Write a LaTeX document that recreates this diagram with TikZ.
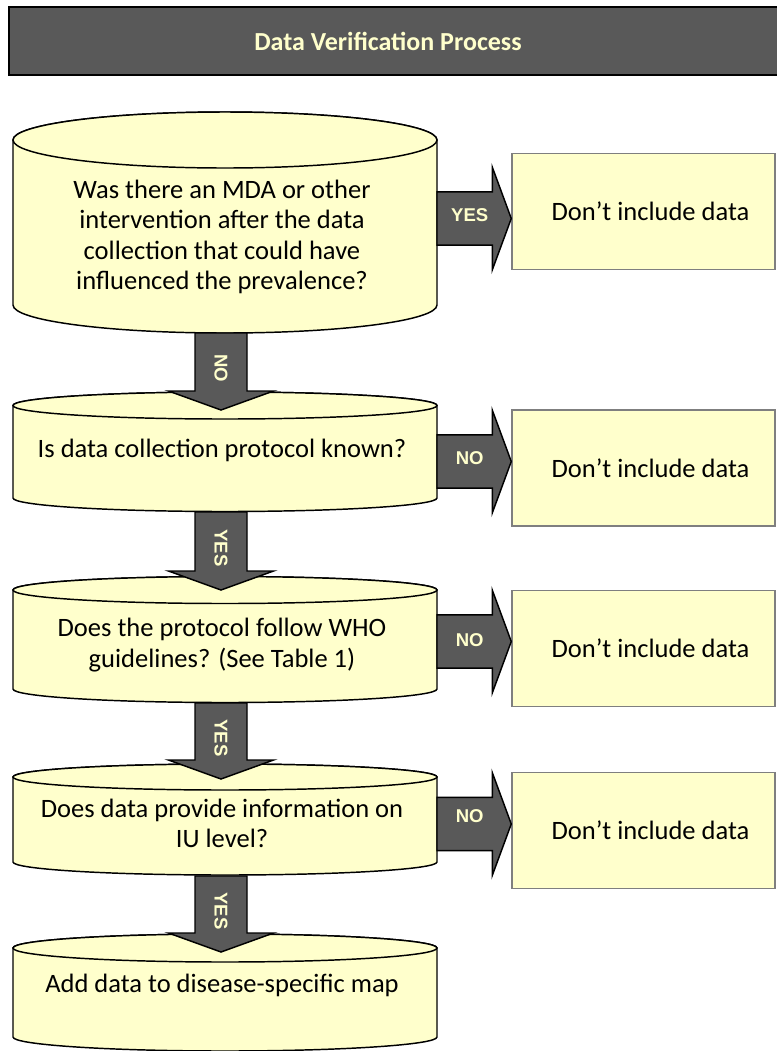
\documentclass[tikz,border=0pt]{standalone}
\usepackage{fontspec}
\setmainfont{Carlito}
\newfontfamily\tagfont{Liberation Sans}
\usetikzlibrary{calc}
\definecolor{paleyellow}{HTML}{FFFFCC}
\definecolor{slategray}{HTML}{595959}
\definecolor{rimgray}{HTML}{7F7F7F}

% can (cylinder) outline: left x, right x, top-ellipse y, bottom-ellipse y, ellipse y radius
\newcommand\drawcan[5]{%
  \pgfmathsetmacro\canmidx{(#1+#2)/2}%
  \pgfmathsetmacro\canrx{(#2-#1)/2}%
  \filldraw[canstyle] (#1,#3) -- (#1,#4)
     arc[start angle=180,end angle=0,x radius=\canrx,y radius=#5]
     -- (#2,#3)
     arc[start angle=0,end angle=-180,x radius=\canrx,y radius=#5] -- cycle;
  \filldraw[canstyle] (\canmidx,#3) ellipse[x radius=\canrx,y radius=#5];
}

% downward block arrow: from, to, label, label name, label position
\newcommand\downblock[5]{%
  \path[blockarrow] let \p1=(#1), \p2=(#2) in
    (\x1-19.5pt,\y1) -- (\x1+19.5pt,\y1) -- (\x1+19.5pt,\y2+14.25pt)
    -- (\x1+39.4pt,\y2+14.25pt) -- (\x2,\y2) -- (\x1-39.4pt,\y2+14.25pt)
    -- (\x1-19.5pt,\y2+14.25pt) -- cycle;
  \node[tag,rotate=-90] (#4) at ($(#1)!#5!(#2)$) {#3};
}

% rightward block arrow: from, to, label, label name, label lift
\newcommand\rightblock[5]{%
  \path[blockarrow] let \p1=(#1), \p2=(#2) in
    (\x1,\y1-19.9pt) -- (\x2-14.25pt,\y1-19.9pt) -- (\x2-14.25pt,\y1-38.6pt)
    -- (\x2,\y1) -- (\x2-14.25pt,\y1+38.6pt) -- (\x2-14.25pt,\y1+19.9pt)
    -- (\x1,\y1+19.9pt) -- cycle;
  \node[tag] (#4) at ($(#1)!0.44!(#2)+(0,-#5)$) {#3};
}

\begin{document}
\begin{tikzpicture}[x=0.75pt,y=-0.75pt,
  canstyle/.style={fill=paleyellow,draw=black,line width=1.1pt},
  blockarrow/.style={fill=slategray,draw=black,line width=1.1pt,line join=miter},
  tag/.style={font=\tagfont\bfseries\fontsize{13.9pt}{16pt}\selectfont,text=paleyellow,inner sep=0pt},
  cantext/.style={font=\fontsize{19.9pt}{22.9pt}\selectfont,align=center,inner sep=0pt},
  outbox/.style={draw=rimgray,line width=1.1pt,fill=paleyellow,
    minimum width=197.25pt,minimum height=87pt,inner sep=0pt,
    font=\fontsize{19.9pt}{22.9pt}\selectfont}]
\useasboundingbox (0,0) rectangle (776,1051);

% heading bar
\filldraw[fill=slategray,draw=black,line width=1.5pt] (9,7) rectangle (790,75);
\node[font=\bfseries\fontsize{19.5pt}{22pt}\selectfont,text=paleyellow,inner sep=0pt] (title) at (388,41) {Data Verification Process};

% cans
\drawcan{13}{437}{140}{305}{28}
\drawcan{13}{437}{405.5}{498}{13.5}
\drawcan{13}{437}{590}{689}{13.5}
\drawcan{13}{437}{777}{862}{13}
\drawcan{13}{437}{948}{1037}{14}

\node[cantext] (c1) at (222,237) {Was there an MDA or other\\intervention after the data\\collection that could have\\influenced the prevalence?};
\node[cantext] (c2) at (222,450.5) {Is data collection protocol known?};
\node[cantext] (c3) at (222,645) {Does the protocol follow WHO\\guidelines? (See Table 1)};
\node[cantext] (c4) at (222,823.5) {Does data provide information on\\IU level?};
\node[cantext] (c5) at (222,985) {Add data to disease-specific map};

% rejection boxes
\node[outbox] (r1) at (643.5,211.5) {\hspace*{10.5pt}Don’t include data};
\node[outbox] (r2) at (643.5,468) {\hspace*{10.5pt}Don’t include data};
\node[outbox] (r3) at (643.5,648.5) {\hspace*{10.5pt}Don’t include data};
\node[outbox] (r4) at (643.5,830.5) {\hspace*{10.5pt}Don’t include data};

% arrow ends on the cans
\coordinate (c1-base) at (221,333);
\coordinate (c2-top) at (221,410);
\coordinate (c2-base) at (221,512);
\coordinate (c3-top) at (221,590);
\coordinate (c3-base) at (221,703);
\coordinate (c4-top) at (221,779);
\coordinate (c4-base) at (221,876);
\coordinate (c5-top) at (221,952);

\coordinate (c1-side) at (437,218.5);
\coordinate (c2-side) at (437,461.5);
\coordinate (c3-side) at (437,641.5);
\coordinate (c4-side) at (437,824);
\coordinate (r1-in) at (r1.west |- c1-side);
\coordinate (r2-in) at (r2.west |- c2-side);
\coordinate (r3-in) at (r3.west |- c3-side);
\coordinate (r4-in) at (r4.west |- c4-side);

% block arrows
\downblock{c1-base}{c2-top}{NO}{d1}{0.46}
\downblock{c2-base}{c3-top}{YES}{d2}{0.46}
\downblock{c3-base}{c4-top}{YES}{d3}{0.46}
\downblock{c4-base}{c5-top}{YES}{d4}{0.46}

\rightblock{c1-side}{r1-in}{YES}{a1}{3.5}
\rightblock{c2-side}{r2-in}{NO}{a2}{3}
\rightblock{c3-side}{r3-in}{NO}{a3}{1}
\rightblock{c4-side}{r4-in}{NO}{a4}{8}
\end{tikzpicture}
\end{document}
